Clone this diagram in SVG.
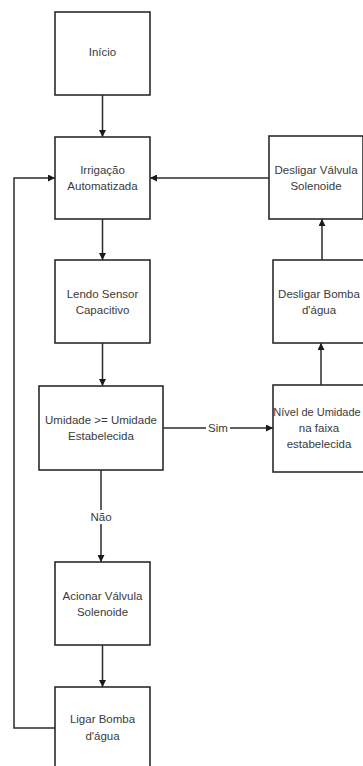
<svg xmlns="http://www.w3.org/2000/svg" width="363" height="766" viewBox="0 0 363 766">
<style>
.box{fill:#fff;stroke:#2b2b2b;stroke-width:1.6}
.t{font-family:"Liberation Sans",Arial,sans-serif;font-size:11.5px;fill:#3a3a3a;text-anchor:middle}
.c{fill:none;stroke:#2b2b2b;stroke-width:1.5}
.lbl{fill:#fff}
</style>
<defs>
<marker id="ah" viewBox="0 0 10 10" refX="10" refY="5" markerWidth="7" markerHeight="7" markerUnits="userSpaceOnUse" orient="auto">
<path d="M0,0 L10,5 L0,10 z" fill="#1a1a1a"/>
</marker>
</defs>
<rect width="363" height="766" fill="#fff"/>
<g id="connectors">
<path class="c" d="M102.5,95 V137" marker-end="url(#ah)"/>
<path class="c" d="M102.5,219 V260" marker-end="url(#ah)"/>
<path class="c" d="M102.5,343 V386" marker-end="url(#ah)"/>
<path class="c" d="M101,470 V562" marker-end="url(#ah)"/>
<path class="c" d="M102.5,645 V687" marker-end="url(#ah)"/>
<path class="c" d="M55,728 H14 V178 H55" marker-end="url(#ah)"/>
<path class="c" d="M163,428 H273" marker-end="url(#ah)"/>
<path class="c" d="M321,385 V343" marker-end="url(#ah)"/>
<path class="c" d="M322,260 V219" marker-end="url(#ah)"/>
<path class="c" d="M269,178 H150" marker-end="url(#ah)"/>
<rect class="lbl" x="206" y="421" width="24" height="14"/>
<text class="t" x="218" y="432">Sim</text>
<rect class="lbl" x="88" y="510" width="27" height="14"/>
<text class="t" x="101" y="521">Não</text>
</g>
<g id="inicio">
<rect class="box" x="55" y="12" width="95" height="83"/>
<text class="t" x="102.5" y="56">Início</text>
</g>
<g id="irrigacao">
<rect class="box" x="55" y="137" width="95" height="82"/>
<text class="t" x="102.5" y="174">Irrigação</text>
<text class="t" x="102.5" y="190">Automatizada</text>
</g>
<g id="lendo">
<rect class="box" x="55" y="260" width="95" height="83"/>
<text class="t" x="102.5" y="298">Lendo Sensor</text>
<text class="t" x="102.5" y="314">Capacitivo</text>
</g>
<g id="umidade">
<rect class="box" x="39" y="386" width="124" height="84"/>
<text class="t" x="101" y="424">Umidade &gt;= Umidade</text>
<text class="t" x="101" y="440">Estabelecida</text>
</g>
<g id="acionar">
<rect class="box" x="55" y="562" width="95" height="83"/>
<text class="t" x="102.5" y="600">Acionar Válvula</text>
<text class="t" x="102.5" y="616">Solenoide</text>
</g>
<g id="ligar">
<rect class="box" x="55" y="687" width="95" height="90"/>
<text class="t" x="102.5" y="723">Ligar Bomba</text>
<text class="t" x="102.5" y="740">d'água</text>
</g>
<g id="nivel">
<rect class="box" x="273" y="385" width="94" height="87"/>
<text class="t" x="317" y="416" style="font-size:11px">Nível de Umidade</text>
<text class="t" x="319" y="432">na faixa</text>
<text class="t" x="319" y="448">estabelecida</text>
</g>
<g id="desligar-bomba">
<rect class="box" x="273" y="260" width="94" height="83"/>
<text class="t" x="319" y="298">Desligar Bomba</text>
<text class="t" x="319" y="314">d'água</text>
</g>
<g id="desligar-valvula">
<rect class="box" x="269" y="136" width="94" height="83"/>
<text class="t" x="316" y="174">Desligar Válvula</text>
<text class="t" x="316" y="190">Solenoide</text>
</g>
</svg>
